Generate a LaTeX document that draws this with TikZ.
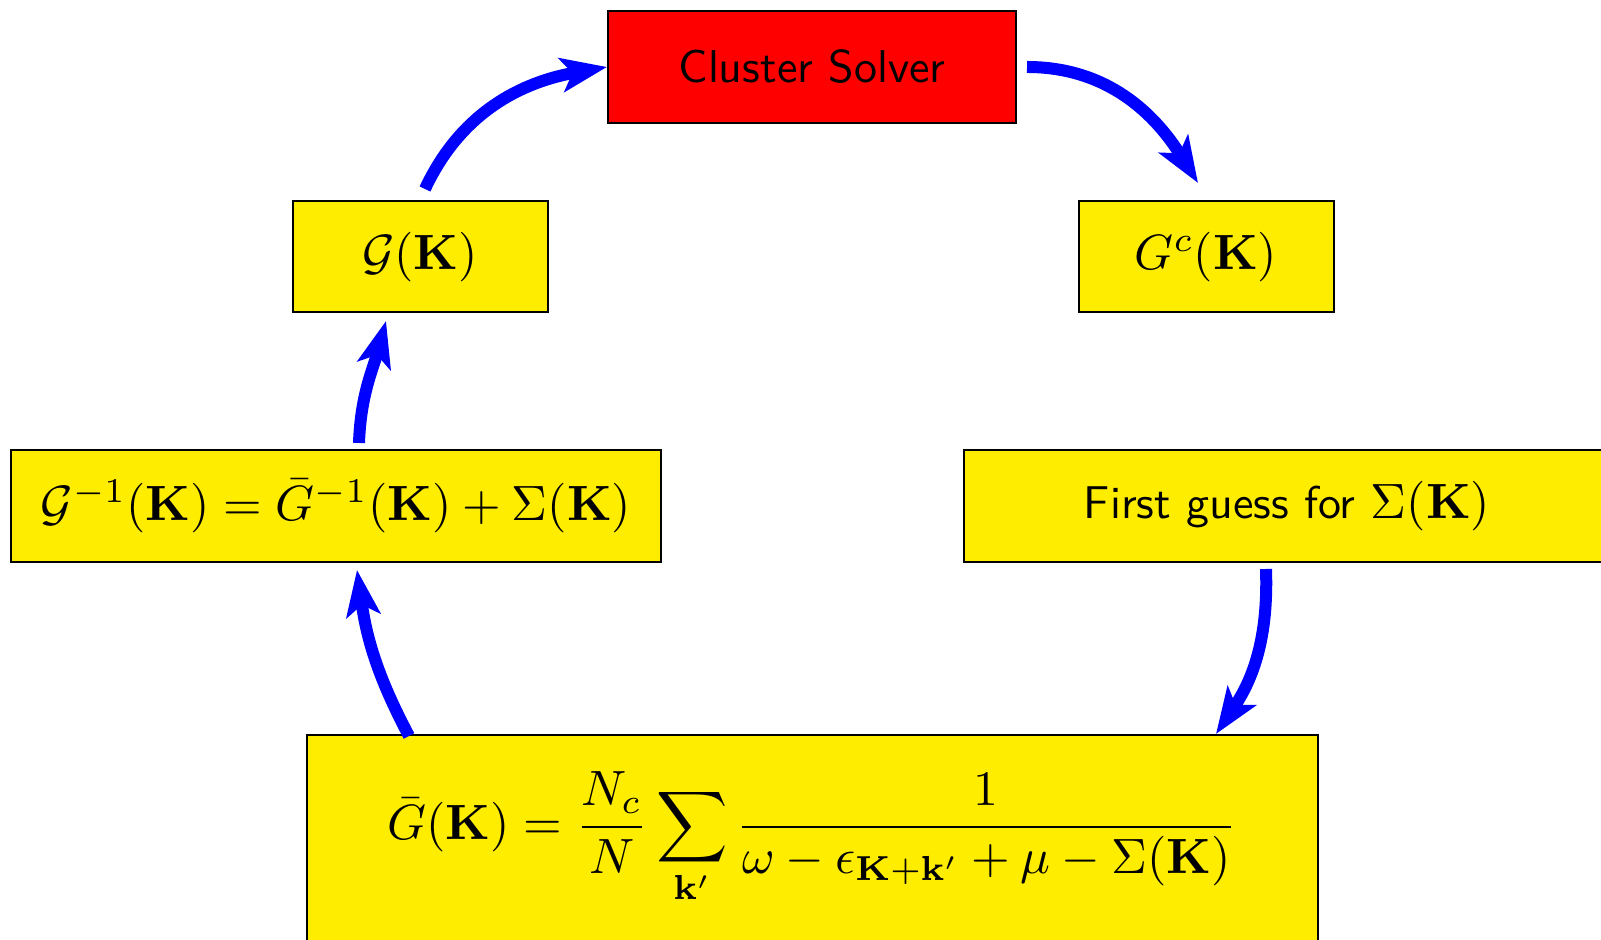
\documentclass[tikz,border=0pt]{standalone}
\usepackage{fix-cm}
\usepackage{amsmath}
\usepackage{graphicx}
\usetikzlibrary{arrows.meta}
\definecolor{boxyellow}{RGB}{255,237,0}
\newcommand{\sanstext}[1]{\scalebox{2.30}{\sffamily #1}}
\newcommand{\mathtext}[1]{\scalebox{2.48}{#1}}
\begin{document}
\begin{tikzpicture}[x=1pt,y=1pt,
  box/.style={draw=black,line width=1pt,fill=boxyellow,inner sep=0pt,font=\fontsize{10}{12}\selectfont},
  flow/.style={draw=blue,line width=6pt,-{Stealth[length=23pt,width=17pt,inset=5.5pt]}}]
\useasboundingbox (0,0) rectangle (800.5,470);
\node[box,fill=red,minimum width=204pt,minimum height=56pt] (cs) at (406,436.5) {\sanstext{Cluster Solver}};
\node[box,minimum width=127.5pt,minimum height=55.5pt] (gk) at (210,341.5) {\mathtext{$\mathcal{G}(\mathbf{K})$}};
\node[box,minimum width=127.5pt,minimum height=55.5pt] (gc) at (603,341.5) {\mathtext{$G^c(\mathbf{K})$}};
\node[box,minimum width=325pt,minimum height=56pt] (ginv) at (168,217) {\mathtext{$\mathcal{G}^{-1}(\mathbf{K}) = \bar{G}^{-1}(\mathbf{K}) + \Sigma(\mathbf{K})$}};
\node[box,minimum width=323pt,minimum height=56pt] (fg) at (643.5,217) {\sanstext{First guess for\ }\mathtext{$\Sigma(\mathbf{K})$}};
\node[box,minimum width=505.5pt,minimum height=103pt] (bot) at (406,51) {\mathtext{$\displaystyle \bar{G}(\mathbf{K}) = \frac{N_c}{N}\sum_{\mathbf{k}'} \frac{1}{\omega - \epsilon_{\mathbf{K}+\mathbf{k}'} + \mu - \Sigma(\mathbf{K})}$}};
\draw[flow] ([shift={(2.5,5.75)}]gk.north) to[out=65,in=190] (cs.west);
\draw[flow] ([shift={(5,0)}]cs.east) to[out=0,in=122] ([shift={(-4,8.75)}]gc.north);
\draw[flow] ([shift={(11.5,3)}]ginv.north) to[out=88,in=-105] ([shift={(-17,-3.75)}]gk.south);
\draw[flow] ([shift={(51.75,-1)}]bot.north west) to[out=118,in=-82] ([shift={(10.5,-3.5)}]ginv.south);
\draw[flow] ([shift={(-10.5,-3)}]fg.south) to[out=-88,in=56] ([shift={(-51.25,0)}]bot.north east);
\end{tikzpicture}
\end{document}
